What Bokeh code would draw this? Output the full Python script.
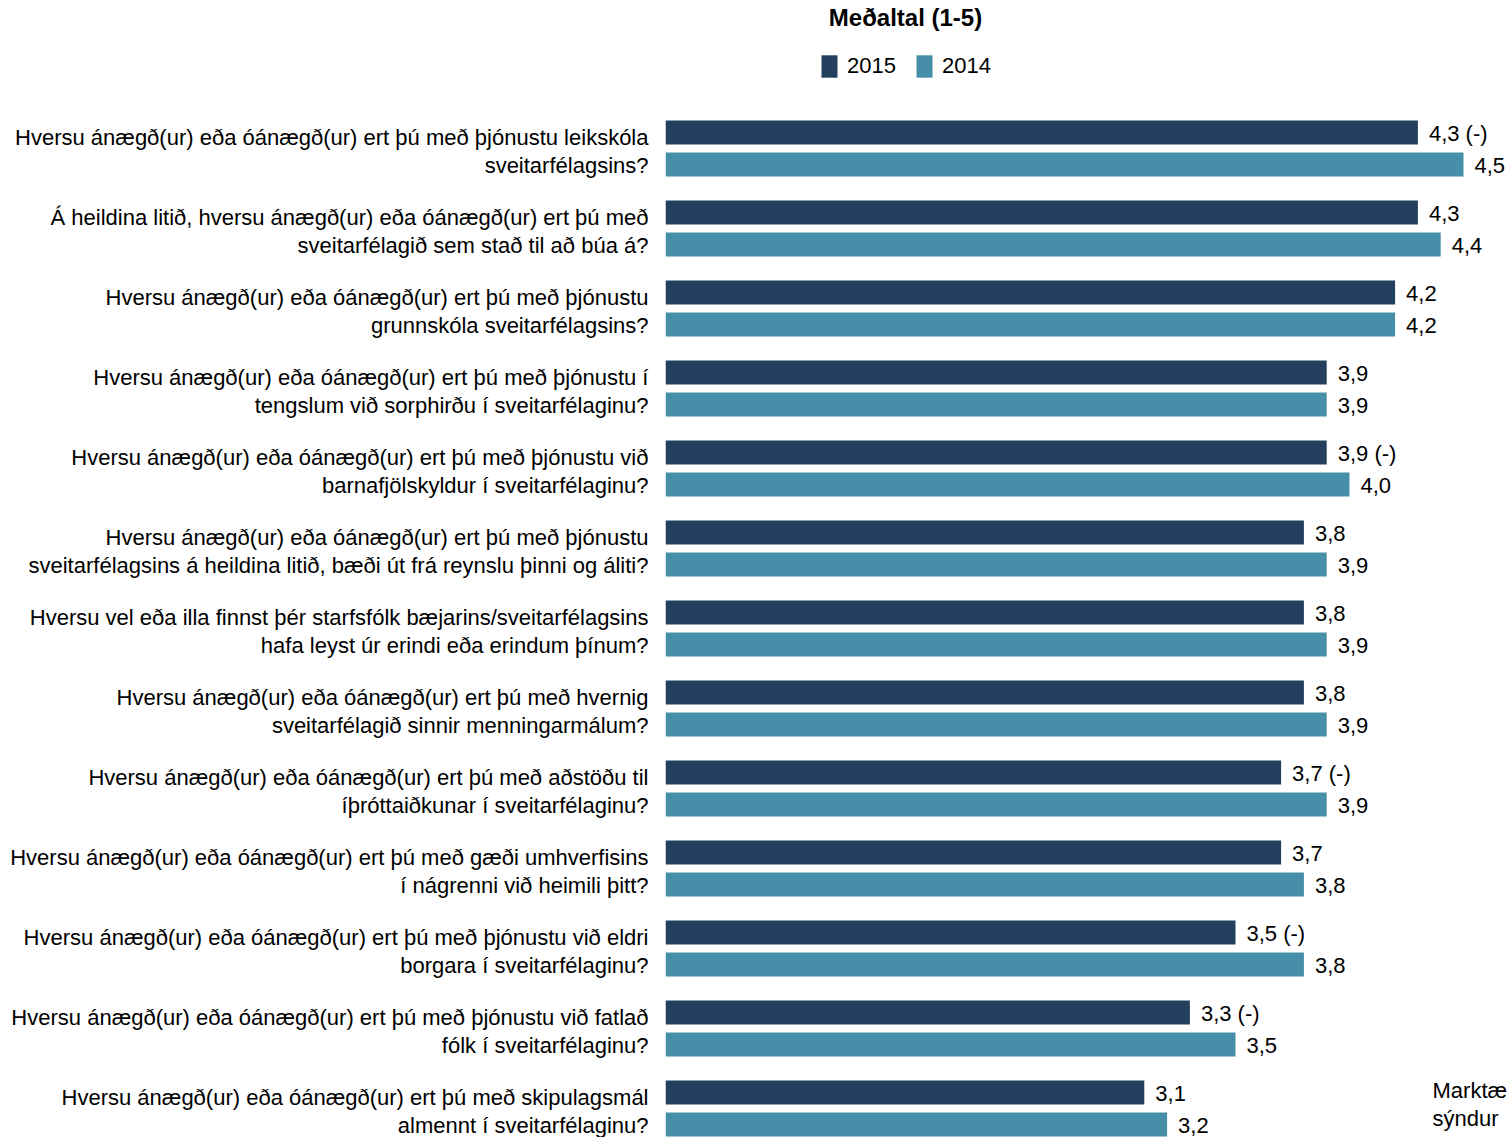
from bokeh.plotting import figure
from bokeh.models import (ColumnDataSource, Range1d, FixedTicker, LabelSet, Label,
                          Legend, LegendItem)
from bokeh.core.properties import value
from bokeh.embed import file_html
from bokeh.resources import INLINE

# ---- data ----
questions = [
    "Hversu ánægð(ur) eða óánægð(ur) ert þú með þjónustu leikskóla\nsveitarfélagsins?",
    "Á heildina litið, hversu ánægð(ur) eða óánægð(ur) ert þú með\nsveitarfélagið sem stað til að búa á?",
    "Hversu ánægð(ur) eða óánægð(ur) ert þú með þjónustu\ngrunnskóla sveitarfélagsins?",
    "Hversu ánægð(ur) eða óánægð(ur) ert þú með þjónustu í\ntengslum við sorphirðu í sveitarfélaginu?",
    "Hversu ánægð(ur) eða óánægð(ur) ert þú með þjónustu við\nbarnafjölskyldur í sveitarfélaginu?",
    "Hversu ánægð(ur) eða óánægð(ur) ert þú með þjónustu\nsveitarfélagsins á heildina litið, bæði út frá reynslu þinni og áliti?",
    "Hversu vel eða illa finnst þér starfsfólk bæjarins/sveitarfélagsins\nhafa leyst úr erindi eða erindum þínum?",
    "Hversu ánægð(ur) eða óánægð(ur) ert þú með hvernig\nsveitarfélagið sinnir menningarmálum?",
    "Hversu ánægð(ur) eða óánægð(ur) ert þú með aðstöðu til\níþróttaiðkunar í sveitarfélaginu?",
    "Hversu ánægð(ur) eða óánægð(ur) ert þú með gæði umhverfisins\ní nágrenni við heimili þitt?",
    "Hversu ánægð(ur) eða óánægð(ur) ert þú með þjónustu við eldri\nborgara í sveitarfélaginu?",
    "Hversu ánægð(ur) eða óánægð(ur) ert þú með þjónustu við fatlað\nfólk í sveitarfélaginu?",
    "Hversu ánægð(ur) eða óánægð(ur) ert þú með skipulagsmál\nalmennt í sveitarfélaginu?",
]
values_2015 = [4.3, 4.3, 4.2, 3.9, 3.9, 3.8, 3.8, 3.8, 3.7, 3.7, 3.5, 3.3, 3.1]
values_2014 = [4.5, 4.4, 4.2, 3.9, 4.0, 3.9, 3.9, 3.9, 3.9, 3.8, 3.8, 3.5, 3.2]
signif_2015 = ["(-)", "", "", "", "(-)", "", "", "", "(-)", "", "(-)", "(-)", ""]
series_names = ["2015", "2014"]
title_text = "Meðaltal (1-5)"
note_text = "Marktæ\nsýndur"

DARK = "#23405f"
TEAL = "#478fa8"
FONT = "Liberation Sans"

n = len(questions)
pos = [n - 1 - i for i in range(n)]
off = 0.2

def fmt(v, s):
    t = f"{v:.1f}".replace(".", ",")
    return t + (" " + s if s else "")

src15 = ColumnDataSource(dict(y=[p_ + off for p_ in pos], v=values_2015,
                              lab=[fmt(v, s) for v, s in zip(values_2015, signif_2015)]))
src14 = ColumnDataSource(dict(y=[p_ - off for p_ in pos], v=values_2014,
                              lab=[fmt(v, "") for v in values_2014]))

W, H = 1508, 1137
left_border = 665
px_per_unit = 228.0
frame_w = W - left_border
x_end = 1 + frame_w / px_per_unit
px_per_group = 80.0
top_units = 148 / px_per_group
bottom_units = (H - 148) / px_per_group
label_shift = 3 / px_per_group  # category label block sits slightly below group centre

p = figure(width=W, height=H, output_backend="svg", toolbar_location=None,
           x_range=Range1d(1, x_end),
           y_range=Range1d((n - 1) - bottom_units, (n - 1) + top_units),
           min_border_left=left_border, min_border_right=0,
           min_border_top=0, min_border_bottom=0)
p.background_fill_color = "white"
p.border_fill_color = "white"
p.outline_line_color = None
p.xgrid.visible = False
p.ygrid.visible = False
p.xaxis.visible = False

r15 = p.hbar(y="y", left=1, right="v", height=0.3, source=src15,
             fill_color=DARK, line_color=None)
r14 = p.hbar(y="y", left=1, right="v", height=0.3, source=src14,
             fill_color=TEAL, line_color=None)

tick_pos = [p_ - label_shift for p_ in pos]
ax = p.yaxis[0]
ax.ticker = FixedTicker(ticks=tick_pos)
ax.major_label_overrides = {t: q for t, q in zip(tick_pos, questions)}
ax.axis_line_color = None
ax.major_tick_line_color = None
ax.minor_tick_line_color = None
ax.major_tick_out = 0
ax.major_tick_in = 0
ax.major_label_standoff = 17
ax.major_label_text_font = FONT
ax.major_label_text_font_size = "22px"
ax.major_label_text_color = "black"
ax.major_label_text_line_height = 1.1

for src in (src15, src14):
    p.add_layout(LabelSet(x="v", y="y", text="lab", source=src, x_offset=11, y_offset=-1,
                          text_baseline="middle", text_align="left",
                          text_font=value(FONT), text_font_size=value("22px"),
                          text_color="black"))

p.add_layout(Label(x=240, y=H - 17, x_units="screen", y_units="screen", text=title_text,
                   text_align="center", text_baseline="middle", text_font=FONT,
                   text_font_size="24px", text_font_style="bold", text_color="black"))

legend = Legend(items=[LegendItem(label=series_names[0], renderers=[r15]),
                       LegendItem(label=series_names[1], renderers=[r14])],
                orientation="horizontal", location=(154, H - 52 - 28),
                glyph_width=20, glyph_height=28, label_standoff=8, spacing=18,
                padding=0, margin=0, border_line_color=None, background_fill_alpha=0,
                label_text_font=FONT, label_text_font_size="22px",
                label_text_color="black", label_height=28)
p.add_layout(legend)

p.add_layout(Label(x=767, y=H - 1104, x_units="screen", y_units="screen", text=note_text,
                   text_align="left", text_baseline="middle", text_font=FONT,
                   text_font_size="22px", text_color="black", text_line_height=1.1))

open("out.html", "w").write(file_html(p, INLINE))
